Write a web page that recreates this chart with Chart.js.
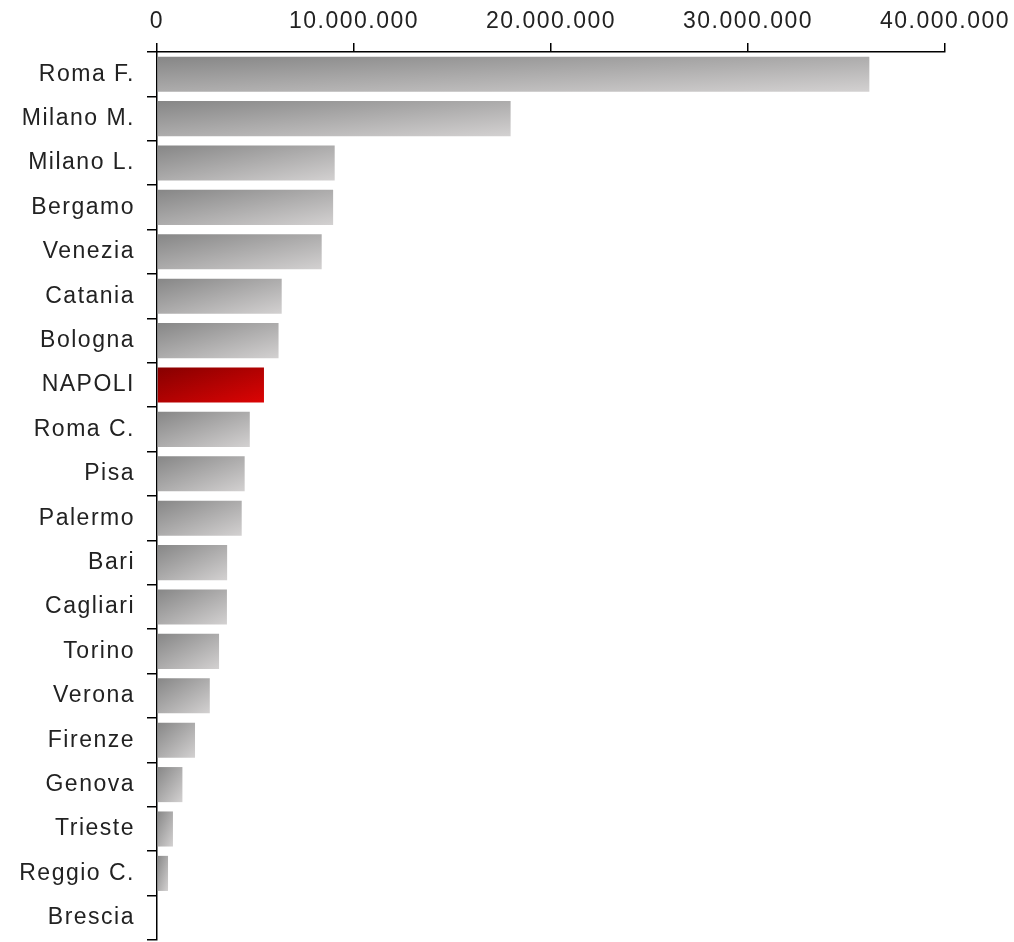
<!DOCTYPE html>
<html>
<head>
<meta charset="utf-8">
<script src="https://cdn.jsdelivr.net/npm/chart.js@4/dist/chart.umd.min.js"></script>
<style>
  html, body { margin: 0; padding: 0; background: #fff; }
  #wrap { width: 1014px; height: 942px; }
</style>
</head>
<body>
<div id="wrap"><canvas id="chart" width="1014" height="942"></canvas></div>
<script>
// passeggeri per aeroporto
const airports = [
  "Roma F.", "Milano M.", "Milano L.", "Bergamo", "Venezia", "Catania", "Bologna",
  "NAPOLI", "Roma C.", "Pisa", "Palermo", "Bari", "Cagliari", "Torino", "Verona",
  "Firenze", "Genova", "Trieste", "Reggio C.", "Brescia"
];
const passengers = [
  36160000, 17950000, 9020000, 8940000, 8360000, 6330000, 6170000,
  5430000, 4710000, 4450000, 4300000, 3560000, 3550000, 3150000, 2680000,
  1930000, 1290000, 810000, 560000, 40000
];
const highlight = "NAPOLI";
const axisTicks = [0, 10000000, 20000000, 30000000, 40000000];

const BAR_PCT = 0.79;
const GREY = ["#868686", "#d3d1d1"];
const RED = ["#860000", "#dc0404"];

// gradiente diagonale "normalizzato" sul rettangolo della barra (stile Excel)
function barFill(context) {
  const chart = context.chart;
  const idx = context.dataIndex;
  const stops = airports[idx] === highlight ? RED : GREY;
  const { x, y } = chart.scales;
  if (!x || !y || !chart.chartArea) return stops[0];

  const x0 = x.getPixelForValue(0);
  const x1 = x.getPixelForValue(context.raw);
  const band = (y.bottom - y.top) / airports.length;
  const h = band * BAR_PCT;
  const y0 = y.getPixelForValue(idx) - h / 2;
  const w = x1 - x0;
  if (w < 1) return stops[0];

  const t = (2 * w * h) / (h * h + w * w);
  const g = chart.ctx.createLinearGradient(x0, y0, x0 + t * h, y0 + t * w);
  g.addColorStop(0, stops[0]);
  g.addColorStop(1, stops[1]);
  return g;
}

const spacing = {
  id: "spacing",
  beforeInit: (chart) => { chart.ctx.letterSpacing = "1.5px"; },
  beforeDraw: (chart) => { chart.ctx.letterSpacing = "1.5px"; },
};

const fmt = (v) => String(v).replace(/\B(?=(\d{3})+(?!\d))/g, ".");
const FONT = { family: "'Liberation Sans', Arial, sans-serif", size: 23 };

new Chart(document.getElementById("chart"), {
  type: "bar",
  data: {
    labels: airports,
    datasets: [{
      data: passengers,
      backgroundColor: barFill,
      borderWidth: 0,
      barPercentage: BAR_PCT,
      categoryPercentage: 1,
    }],
  },
  plugins: [spacing],
  options: {
    indexAxis: "y",
    responsive: false,
    animation: false,
    layout: { padding: { left: 0, right: 69, top: 0, bottom: 2 } },
    plugins: {
      legend: { display: false },
      tooltip: { enabled: false },
    },
    scales: {
      x: {
        position: "top",
        min: 0,
        max: 40000000,
        afterBuildTicks: (scale) => { scale.ticks = axisTicks.map((v) => ({ value: v })); },
        afterFit: (scale) => { scale.height = 52; },
        border: { display: true, color: "#000", width: 1.5 },
        grid: { drawOnChartArea: false, drawTicks: true, tickLength: 9, color: "#000", lineWidth: 1.5 },
        ticks: {
          padding: 8,
          color: "#222",
          font: FONT,
          callback: (v) => fmt(v),
          maxRotation: 0,
        },
      },
      y: {
        afterFit: (scale) => {
          scale.width = 157;
          scale.paddingTop = 0;
          scale.paddingBottom = 0;
        },
        border: { display: true, color: "#000", width: 1.5 },
        grid: { offset: true, drawOnChartArea: false, drawTicks: true, tickLength: 10, color: "#000", lineWidth: 1.5 },
        ticks: {
          padding: 12,
          color: "#222",
          font: FONT,
        },
      },
    },
  },
});
</script>
</body>
</html>
